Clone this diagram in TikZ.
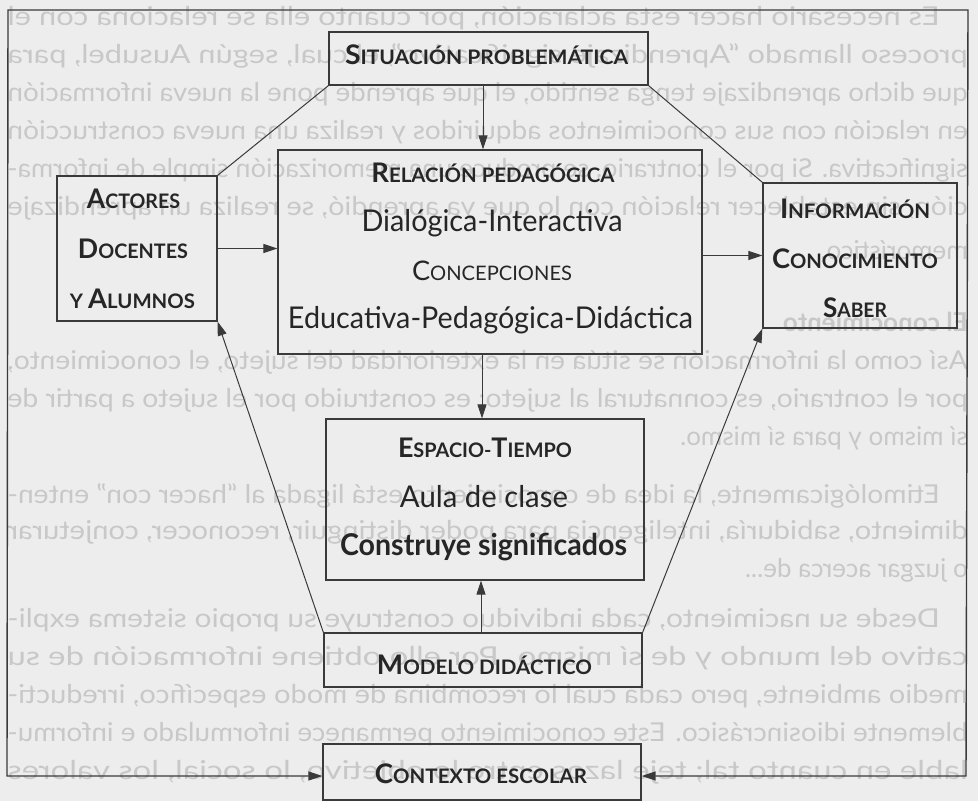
\documentclass[tikz,border=0pt]{standalone}
\usepackage{fontspec}
\setmainfont{Lato}
\usepackage{graphicx}
\usetikzlibrary{arrows.meta}
\definecolor{paper}{HTML}{EDEDED}
\definecolor{bleed}{HTML}{C8C8C8}
\definecolor{ink}{HTML}{262626}
\definecolor{edge}{HTML}{3A3A3A}
\newcommand\fsz[1]{\fontsize{#1}{#1}\selectfont}
\newcommand\scA[1]{{\fsz{27}#1}}
\newcommand\scB[1]{{\fsz{20}#1}}
\newcommand\fitw[2]{\resizebox{#1}{\height}{#2}}
\begin{document}
\begin{tikzpicture}[x=1pt,y=-1pt,
  box/.style={draw=edge, line width=1.3pt, rectangle, inner sep=0pt},
  lab/.style={text=ink, inner sep=0pt, anchor=base},
  arr/.style={draw=edge, line width=1pt, -{Triangle[length=14pt,width=9pt]}},
  lin/.style={draw=edge, line width=1pt},
  frame/.style={draw=edge, line width=1.4pt, {Triangle[length=14pt,width=9pt]}-{Triangle[length=14pt,width=9pt]}},
  bl/.style={text=bleed, inner sep=0pt, anchor=west, transform shape, font=\fsz{26}}]
\fill[paper] (0,0) rectangle (978,801);
\useasboundingbox (0,0) rectangle (978,801);

% mirrored bleed-through text from the reverse of the page
\begin{scope}[xshift=978pt, xscale=-1]
\node[bl] (b01) at (38,18) {\fitw{932pt}{Es necesario hacer esta aclaración, por cuanto ella se relaciona con el}};
\node[bl] (b02) at (10,56) {\fitw{960pt}{proceso llamado “Aprendizaje significativo”, el cual, según Ausubel, para}};
\node[bl] (b03) at (10,94) {\fitw{960pt}{que dicho aprendizaje tenga sentido, el que aprende pone la nueva información}};
\node[bl] (b04) at (10,132) {\fitw{960pt}{en relación con sus conocimientos adquiridos y realiza una nueva construcción}};
\node[bl] (b05) at (10,170) {\fitw{960pt}{significativa. Si por el contrario, se produce una memorización simple de informa-}};
\node[bl] (b06) at (10,208) {\fitw{960pt}{ción, sin establecer relación con lo que ya aprendió, se realiza un aprendizaje}};
\node[bl] (b07) at (10,250) {memorístico.};
\node[bl] (b08) at (10,322) {\bfseries El conocimiento};
\node[bl] (b09) at (10,362) {\fitw{960pt}{Así como la información se sitúa en la exterioridad del sujeto, el conocimiento,}};
\node[bl] (b10) at (10,400) {\fitw{960pt}{por el contrario, es connatural al sujeto; es construido por el sujeto a partir de}};
\node[bl] (b11) at (10,438) {sí mismo y para sí mismo.};
\node[bl] (b12) at (38,496) {\fitw{932pt}{Etimológicamente, la idea de conocimiento está ligada al “hacer con” enten-}};
\node[bl] (b13) at (10,532) {\fitw{960pt}{dimiento, sabiduría, inteligencia para poder distinguir, reconocer, conjeturar}};
\node[bl] (b14) at (10,570) {o juzgar acerca de...};
\node[bl] (b15) at (38,620) {\fitw{932pt}{Desde su nacimiento, cada individuo construye su propio sistema expli-}};
\node[bl] (b16) at (10,658) {\fitw{960pt}{cativo del mundo y de sí mismo. Por ello obtiene información de su}};
\node[bl] (b17) at (10,696) {\fitw{960pt}{medio ambiente, pero cada cual lo recombina de modo específico, irreducti-}};
\node[bl] (b18) at (10,734) {\fitw{960pt}{blemente idiosincrásico. Este conocimiento permanece informulado e informu-}};
\node[bl] (b19) at (10,772) {\fitw{960pt}{lable en cuanto tal; teje lazos entre lo objetivo, lo social, los valores}};
\end{scope}

% boxes
\node[box, minimum width=319pt, minimum height=53pt] (sit) at (488.5,58.5) {};
\node[box, minimum width=424pt, minimum height=204pt] (rel) at (490,252) {};
\node[box, minimum width=160pt, minimum height=145pt] (act) at (137,248.5) {};
\node[box, minimum width=194pt, minimum height=145pt] (inf) at (860,255.5) {};
\node[box, minimum width=318pt, minimum height=161pt] (esp) at (485,499.5) {};
\node[box, minimum width=318pt, minimum height=54pt] (mod) at (483,660) {};
\node[box, minimum width=318pt, minimum height=56pt] (ctx) at (482,772) {};

% labels
\node[lab] (tsit) at (486.5,64) {\fitw{283pt}{\bfseries\scA{S}\scB{ITUACIÓN PROBLEMÁTICA}}};
\node[lab] (trel1) at (493,182) {\fitw{243pt}{\bfseries\scA{R}\scB{ELACIÓN PEDAGÓGICA}}};
\node[lab] (trel2) at (492,231) {\fitw{261pt}{\fsz{30}Dialógica-Interactiva}};
\node[lab] (trel3) at (492,280) {\fitw{160pt}{\scA{C}\scB{ONCEPCIONES}}};
\node[lab] (trel4) at (490.5,328) {\fitw{405pt}{\fsz{30}Educativa-Pedagógica-Didáctica}};
\node[lab] (tact1) at (133.5,208) {\fitw{93pt}{\bfseries\scA{A}\scB{CTORES}}};
\node[lab] (tact2) at (133,258) {\fitw{110pt}{\bfseries\scA{D}\scB{OCENTES}}};
\node[lab] (tact3) at (132.5,308) {\fitw{125pt}{\bfseries\scB{Y }\scA{A}\scB{LUMNOS}}};
\node[lab] (tinf1) at (855,218) {\fitw{150pt}{\bfseries\scA{I}\scB{NFORMACIÓN}}};
\node[lab] (tinf2) at (855,268) {\fitw{166pt}{\bfseries\scA{C}\scB{ONOCIMIENTO}}};
\node[lab] (tinf3) at (855,317) {\fitw{64pt}{\bfseries\scA{S}\scB{ABER}}};
\node[lab] (tesp1) at (485,457) {\fitw{174pt}{\bfseries\scA{E}\scB{SPACIO-}\scA{T}\scB{IEMPO}}};
\node[lab] (tesp2) at (484,507) {\fitw{168pt}{\fsz{30}Aula de clase}};
\node[lab] (tesp3) at (483.5,555) {\fitw{287pt}{\bfseries\fsz{30}Construye significados}};
\node[lab] (tmod) at (484.5,674) {\fitw{215pt}{\bfseries\scA{M}\scB{ODELO DIDÁCTICO}}};
\node[lab] (tctx) at (481,783) {\fitw{212pt}{\bfseries\scA{C}\scB{ONTEXTO ESCOLAR}}};

% helper coordinates
\coordinate (v1) at (483,0);
\coordinate (v2) at (482,0);
\coordinate (v3) at (481,0);
\coordinate (fBL) at (7,776);
\coordinate (fTL) at (8,10);
\coordinate (fTR) at (968,10);
\coordinate (fBR) at (966,776);

% connectors
\draw[arr] (sit.south -| v1) -- (rel.north -| v1);
\draw[lin] (sit.south west) -- (act.north east);
\draw[lin] (sit.south east) -- (inf.north west);
\draw[arr] (act.east) -- (act.east -| rel.west);
\draw[arr] (rel.east |- inf.west) -- (inf.west);
\draw[arr] (rel.south -| v2) -- (esp.north -| v2);
\draw[arr] (mod.north -| v3) -- (esp.south -| v3);
\draw[arr] (mod.north west) -- (act.south east);
\draw[arr] (mod.north east) -- (inf.south west);
\draw[frame] (ctx.west |- fBL) -- (fBL) -- (fTL) -- (fTR) -- (fBR) -- (ctx.east |- fBR);
\end{tikzpicture}
\end{document}
